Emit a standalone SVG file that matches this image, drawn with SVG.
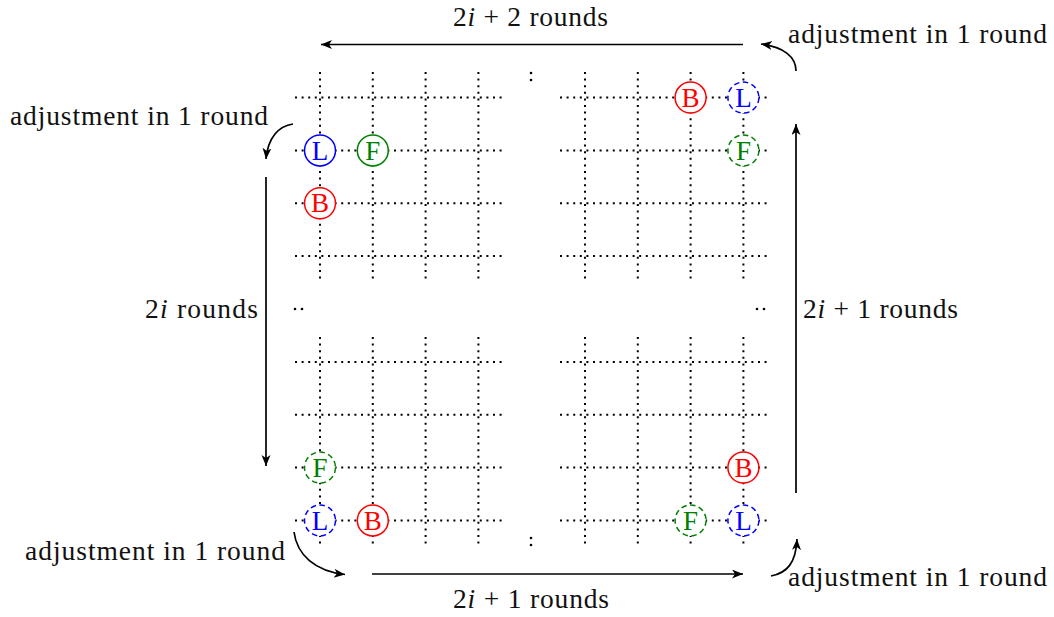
<svg xmlns="http://www.w3.org/2000/svg" width="1054" height="617" viewBox="0 0 1054 617">
<defs>
<marker id="ah" markerUnits="userSpaceOnUse" markerWidth="12" markerHeight="10" refX="11" refY="4.5" orient="auto">
<path d="M0,0 L11,4.5 L0,9 L3,4.5 Z" fill="#000"/>
</marker>
<style>
.grid{stroke:#000;stroke-width:2;stroke-dasharray:2 4.6;fill:none}
.arr{stroke:#000;stroke-width:1.7;fill:none;marker-end:url(#ah)}
.t{font-family:"Liberation Serif","Times New Roman",serif;font-size:27.5px;fill:#111}
.n{font-family:"Liberation Serif","Times New Roman",serif;font-size:27px;text-anchor:middle}
.c{fill:#fff;stroke-width:1.5}
.d{stroke-dasharray:5.5 3.5}
.red{stroke:#ff0000}.redt{fill:#ff0000}
.blue{stroke:#0000ff}.bluet{fill:#0000ff}
.green{stroke:#007f00}.greent{fill:#007f00}
.dot{fill:#000}
</style>
</defs>
<rect width="1054" height="617" fill="#fff"/>
<g id="grids">
<path class="grid" d="M295,97.6H503M295,150.4H503M295,203.2H503M295,256H503M320,72V282M372.8,72V282M425.6,72V282M478.4,72V282"/>
<path class="grid" d="M560,97.6H769M560,150.4H769M560,203.2H769M560,256H769M585,72V282M637.8,72V282M690.6,72V282M743.4,72V282"/>
<path class="grid" d="M295,362H503M295,414.8H503M295,467.6H503M295,520.4H503M320,337V546M372.8,337V546M425.6,337V546M478.4,337V546"/>
<path class="grid" d="M560,362H769M560,414.8H769M560,467.6H769M560,520.4H769M585,337V546M637.8,337V546M690.6,337V546M743.4,337V546"/>
</g>
<g id="ellipsis">
<circle class="dot" cx="531" cy="73" r="1.3"/><circle class="dot" cx="531" cy="80" r="1.3"/>
<circle class="dot" cx="531" cy="538" r="1.3"/><circle class="dot" cx="531" cy="545" r="1.3"/>
<circle class="dot" cx="295" cy="309" r="1.3"/><circle class="dot" cx="302" cy="309" r="1.3"/>
<circle class="dot" cx="757" cy="309" r="1.3"/><circle class="dot" cx="764" cy="309" r="1.3"/>
</g>
<g id="tl-L"><circle class="c blue" cx="320" cy="150.4" r="15.5"/><text class="n bluet" x="320" y="159.6">L</text></g>
<g id="tl-F"><circle class="c green" cx="372.8" cy="150.4" r="15.5"/><text class="n greent" x="372.8" y="159.6">F</text></g>
<g id="tl-B"><circle class="c red" cx="320" cy="203.2" r="15.5"/><text class="n redt" x="320" y="212.4">B</text></g>
<g id="tr-B"><circle class="c red" cx="690.6" cy="97.6" r="15.5"/><text class="n redt" x="690.6" y="106.8">B</text></g>
<g id="tr-L"><circle class="c blue d" cx="743.4" cy="97.6" r="15.5"/><text class="n bluet" x="743.4" y="106.8">L</text></g>
<g id="tr-F"><circle class="c green d" cx="743.4" cy="150.4" r="15.5"/><text class="n greent" x="743.4" y="159.6">F</text></g>
<g id="bl-F"><circle class="c green d" cx="320" cy="467.6" r="15.5"/><text class="n greent" x="320" y="476.8">F</text></g>
<g id="bl-L"><circle class="c blue d" cx="320" cy="520.4" r="15.5"/><text class="n bluet" x="320" y="529.6">L</text></g>
<g id="bl-B"><circle class="c red" cx="372.8" cy="520.4" r="15.5"/><text class="n redt" x="372.8" y="529.6">B</text></g>
<g id="br-B"><circle class="c red" cx="743.4" cy="467.6" r="15.5"/><text class="n redt" x="743.4" y="476.8">B</text></g>
<g id="br-F"><circle class="c green d" cx="690.6" cy="520.4" r="15.5"/><text class="n greent" x="690.6" y="529.6">F</text></g>
<g id="br-L"><circle class="c blue d" cx="743.4" cy="520.4" r="15.5"/><text class="n bluet" x="743.4" y="529.6">L</text></g>
<g id="connectors">
<path class="arr" d="M743,44.5H321"/>
<path class="arr" d="M796,493V124"/>
<path class="arr" d="M266,177V466"/>
<path class="arr" d="M372,574H743"/>
<path class="arr" d="M796,71C796,57 784,47 761,44"/>
<path class="arr" d="M293,124C279,126 268,137 266,159"/>
<path class="arr" d="M294,532C297,555 315,571 345,574.5"/>
<path class="arr" d="M771,576C787,573 796,563 797,539"/>
</g>
<g id="labels">
<text class="t" x="453" y="26" textLength="155">2<tspan font-style="italic">i</tspan> + 2 rounds</text>
<text class="t" x="788" y="43" textLength="259">adjustment in 1 round</text>
<text class="t" x="10" y="125" textLength="258">adjustment in 1 round</text>
<text class="t" x="145" y="318" textLength="113">2<tspan font-style="italic">i</tspan> rounds</text>
<text class="t" x="803" y="318" textLength="155">2<tspan font-style="italic">i</tspan> + 1 rounds</text>
<text class="t" x="25" y="560" textLength="260">adjustment in 1 round</text>
<text class="t" x="453" y="608" textLength="156">2<tspan font-style="italic">i</tspan> + 1 rounds</text>
<text class="t" x="788" y="586" textLength="259">adjustment in 1 round</text>
</g>
</svg>
